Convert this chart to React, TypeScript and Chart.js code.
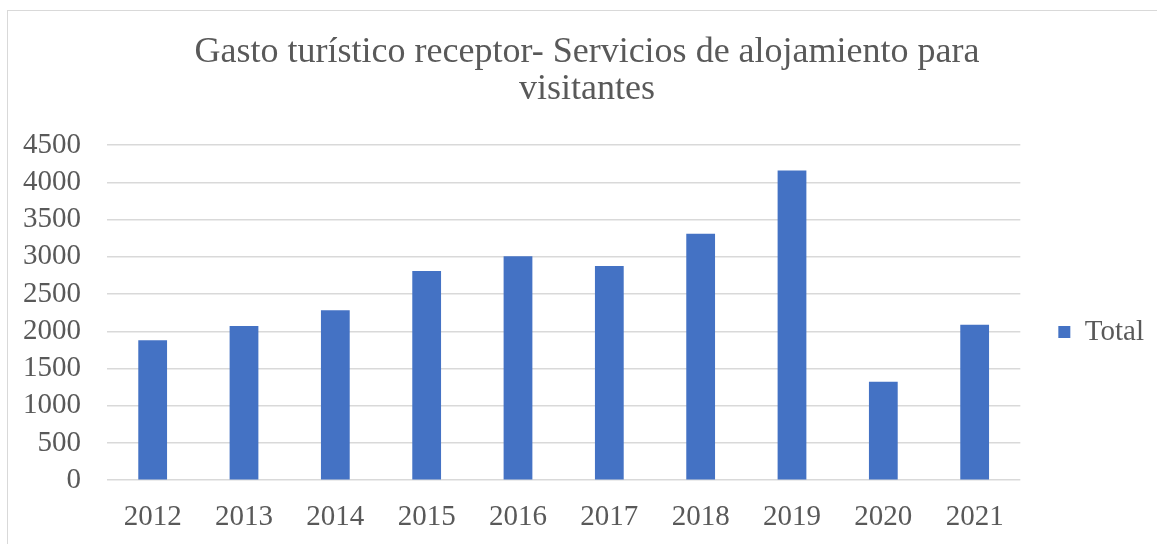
import React, { useEffect, useRef } from "react";
import { Chart, registerables } from "chart.js";

Chart.register(...registerables);

const years = ["2012", "2013", "2014", "2015", "2016", "2017", "2018", "2019", "2020", "2021"];
const totalValues = [1880, 2072, 2281, 2811, 3007, 2878, 3310, 4161, 1323, 2089];
const titleLines = ["Gasto turístico receptor- Servicios de alojamiento para", "visitantes"];
const seriesLabel = "Total";

const FONT = "'Liberation Serif', 'Times New Roman', serif";
const TEXT = "#595959";
const GRID = "#d9d9d9";
const BAR = "#4472C4";

const legendShift = {
  id: "legendShift",
  afterLayout(chart: any) {
    const lg = chart.legend;
    if (!lg) return;
    const target = 332;
    const mid = (lg.top + lg.bottom) / 2;
    const dy = target - mid;
    lg.top += dy;
    lg.bottom += dy;
  },
};

export default function App() {
  const ref = useRef<HTMLCanvasElement | null>(null);
  useEffect(() => {
    if (!ref.current) return;
    const chart = new Chart(ref.current, {
      type: "bar",
      data: {
        labels: years,
        datasets: [
          {
            label: seriesLabel,
            data: totalValues,
            backgroundColor: BAR,
            borderWidth: 0,
            categoryPercentage: 1,
            barPercentage: 0.315,
          },
        ],
      },
      plugins: [legendShift],
      options: {
        responsive: false,
        animation: false,
        layout: { padding: { left: 20, right: 3, top: 10, bottom: -11 } },
        plugins: {
          title: {
            display: true,
            text: titleLines,
            color: TEXT,
            font: { family: FONT, size: 36, weight: "normal", lineHeight: 1.03 },
            padding: { top: 24, bottom: 37 },
          },
          legend: {
            display: true,
            position: "right",
            labels: {
              color: TEXT,
              font: { family: FONT, size: 29 },
              boxWidth: 12,
              boxHeight: 12,
              padding: 38,
            },
          },
          tooltip: { enabled: false },
        },
        scales: {
          x: {
            grid: { display: false, drawTicks: false },
            border: { display: false },
            ticks: { color: TEXT, font: { family: FONT, size: 29 }, padding: 20, maxRotation: 0 },
          },
          y: {
            min: 0,
            max: 4500,
            grid: { color: GRID, lineWidth: 1.5, drawTicks: false },
            border: { display: false },
            ticks: {
              stepSize: 500,
              autoSkip: false,
              color: TEXT,
              font: { family: FONT, size: 29, lineHeight: 1 },
              padding: 26,
              callback: (v: any) => String(v),
            },
            afterFit(scale: any) {
              scale.width = 87;
            },
          },
        },
      },
    });
    return () => chart.destroy();
  }, []);

  return (
    <div style={{ position: "fixed", left: 0, top: 0, width: 1157, height: 544, overflow: "hidden", background: "#fff" }}>
      <div
        style={{
          position: "absolute",
          left: 7,
          top: 10,
          width: 1250,
          height: 700,
          border: "1.5px solid #d9d9d9",
        }}
      />
      <canvas ref={ref} width={1157} height={544} style={{ position: "absolute", left: 0, top: 0 }} />
    </div>
  );
}
